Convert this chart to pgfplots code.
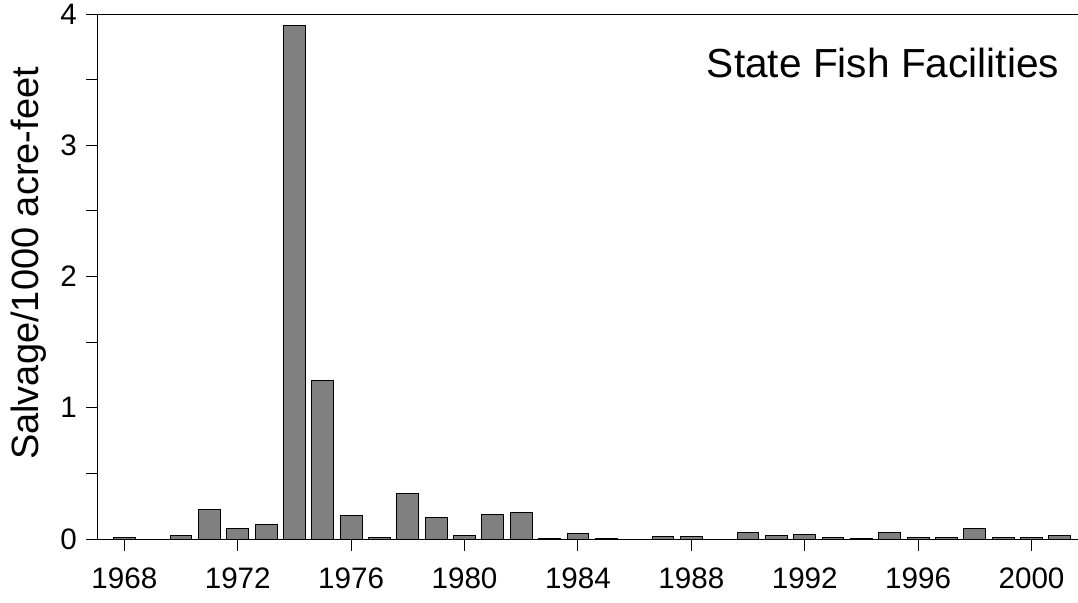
\documentclass[border=0pt]{standalone}
\usepackage{pgfplots}
\pgfplotsset{compat=1.18}
\usepackage{fontspec}
\setmainfont{Liberation Sans}
\begin{document}
\begin{tikzpicture}
\begin{axis}[
  scale only axis,
  width=490pt, height=262.5pt,
  xmin=1967.07, xmax=2001.64,
  ymin=0, ymax=4,
  axis lines=left,
  axis line style={-, line width=0.5pt, black},
  tick style={line width=0.5pt, black},
  tick align=outside,
  xtick={1968,1972,...,2000},
  minor x tick num=3,
  ytick={0,0.5,...,4},
  yticklabels={0,,1,,2,,3,,4},
  major tick length=6pt,
  minor tick length=3pt,
  /pgf/number format/assume math mode=true,
  xticklabel style={font=\fontsize{14.8}{17}\selectfont, yshift=-5pt},
  yticklabel style={font=\fontsize{14.8}{17}\selectfont, xshift=-1pt},
  x tick label style={/pgf/number format/1000 sep={}},
  ylabel={Salvage/1000 acre-feet},
  ylabel style={font=\fontsize{19}{22}\selectfont, xshift=6.5pt},
  clip=false,
]
\addplot[ybar, bar width=0.77, fill=black!50, draw=black, line width=0.5pt] coordinates {
(1968,0.015) (1970,0.025) (1971,0.225) (1972,0.08) (1973,0.11)
(1974,3.91) (1975,1.205) (1976,0.18) (1977,0.015) (1978,0.35)
(1979,0.165) (1980,0.025) (1981,0.185) (1982,0.2) (1983,0.003)
(1984,0.045) (1985,0.003) (1987,0.02) (1988,0.02) (1990,0.053)
(1991,0.03) (1992,0.035) (1993,0.012) (1994,0.007) (1995,0.05)
(1996,0.015) (1997,0.012) (1998,0.08) (1999,0.015) (2000,0.01)
(2001,0.028)
};
\draw[line width=0.5pt, black] (rel axis cs:0,1) -- (rel axis cs:1,1);
\node[anchor=base east, font=\fontsize{20.3}{24}\selectfont] at (rel axis cs:0.9878,0.88) {State Fish Facilities};
\end{axis}
\pgfresetboundingbox
\path[use as bounding box] (-49pt,-31.5pt) rectangle (490pt,269.5pt);
\end{tikzpicture}
\end{document}
